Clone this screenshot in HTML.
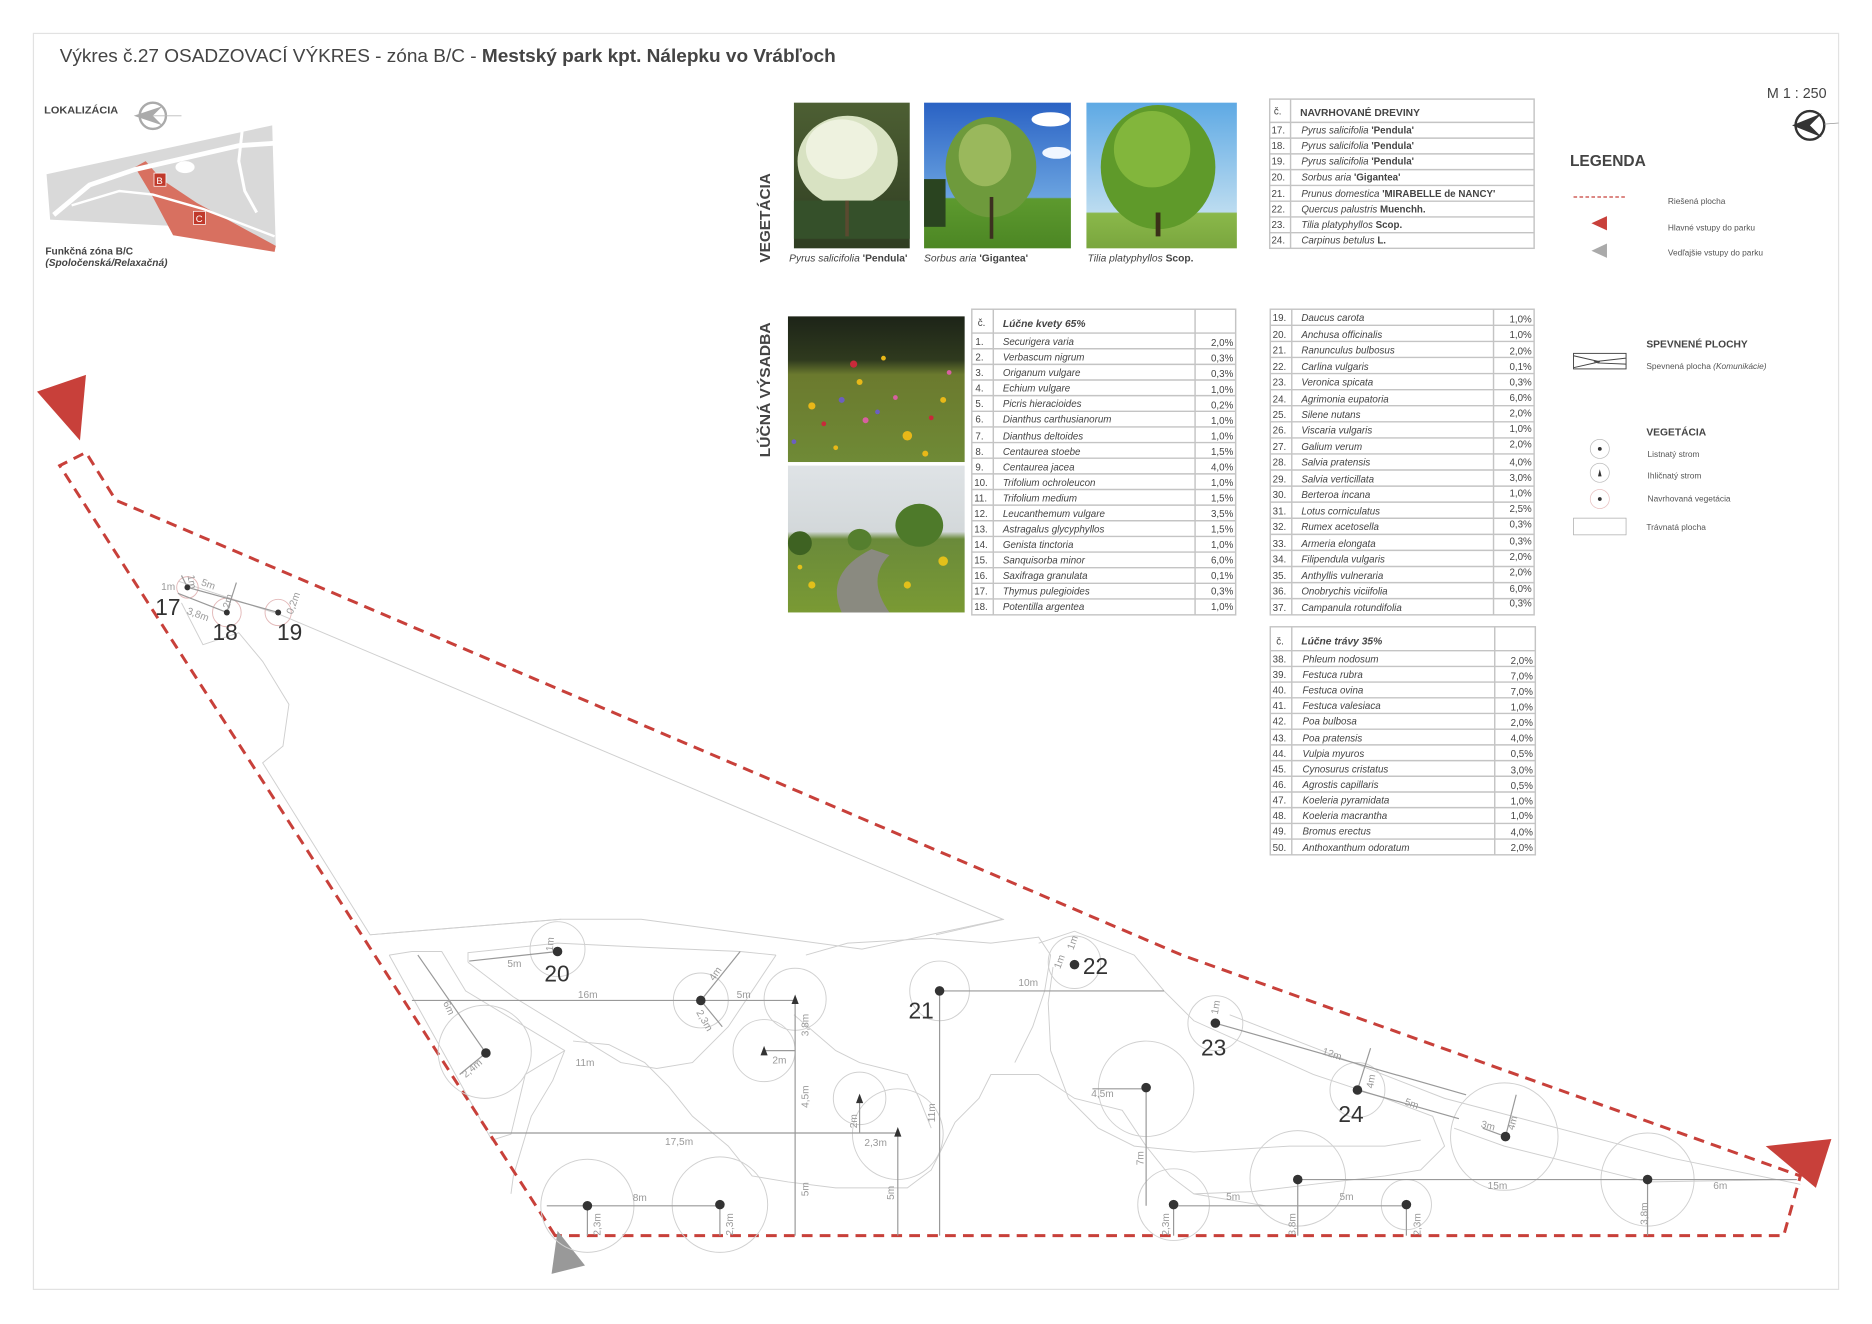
<!DOCTYPE html>
<html><head><meta charset="utf-8"><style>
html,body{margin:0;padding:0;background:#fff;}
svg{display:block;}
text{font-family:"Liberation Sans",sans-serif;}
.t{font-size:8.2px;font-style:italic;fill:#444;}
.n{font-size:8.2px;fill:#444;}
.p{font-size:8.2px;fill:#444;text-anchor:end;}
.d{font-size:8.5px;fill:#999;}
.big{font-size:19px;fill:#333;}
.lg{font-size:7px;fill:#555;}
</style></head><body>
<svg width="1872" height="1324" viewBox="0 0 1568 1109" preserveAspectRatio="none" xmlns="http://www.w3.org/2000/svg">
<defs>
<linearGradient id="g1" x1="0" y1="0" x2="0" y2="1"><stop offset="0" stop-color="#4d5f33"/><stop offset="1" stop-color="#2f3d22"/></linearGradient>
<linearGradient id="g2" x1="0" y1="0" x2="0" y2="1"><stop offset="0" stop-color="#2a62c4"/><stop offset="0.65" stop-color="#6aa3e0"/><stop offset="0.66" stop-color="#5d9a2e"/><stop offset="1" stop-color="#4c8624"/></linearGradient>
<linearGradient id="g3" x1="0" y1="0" x2="0" y2="1"><stop offset="0" stop-color="#5ea9e4"/><stop offset="0.75" stop-color="#bcdcf0"/><stop offset="0.76" stop-color="#8ab84a"/><stop offset="1" stop-color="#7aa63e"/></linearGradient>
<linearGradient id="g4" x1="0" y1="0" x2="0" y2="1"><stop offset="0" stop-color="#1d2418"/><stop offset="0.3" stop-color="#2f3a1e"/><stop offset="0.4" stop-color="#6b7a2e"/><stop offset="1" stop-color="#6f8a36"/></linearGradient>
<linearGradient id="g5" x1="0" y1="0" x2="0" y2="1"><stop offset="0" stop-color="#dfe3e6"/><stop offset="0.45" stop-color="#d3d8da"/><stop offset="0.5" stop-color="#6a8a3a"/><stop offset="1" stop-color="#7a9a34"/></linearGradient>
</defs>

<!-- frame -->
<rect x="28" y="28" width="1512" height="1052" fill="none" stroke="#e2e2e2" stroke-width="1"/>

<!-- title -->
<text x="50" y="52" font-size="15.5" fill="#444" textLength="650" lengthAdjust="spacingAndGlyphs">Výkres č.27 OSADZOVACÍ VÝKRES - zóna B/C  - <tspan font-weight="bold">Mestský park kpt. Nálepku vo Vrábľoch</tspan></text>

<!-- localization -->
<text x="37" y="95" font-size="8.5" font-weight="bold" fill="#444" textLength="62" lengthAdjust="spacingAndGlyphs">LOKALIZÁCIA</text>
<circle cx="128" cy="97" r="11" fill="none" stroke="#aaa" stroke-width="2"/>
<path d="M112 97 L136 89 L128 97 L136 105 Z" fill="#aaa"/>
<line x1="128" y1="97" x2="152" y2="97" stroke="#bbb" stroke-width="0.8"/>
<polygon points="39,146 228,105 231,207 200,192 42,184" fill="#d9d9d9"/>
<polygon points="113,140 122,135 135,150 165,170 231,206 230,211 145,197 128,165" fill="#d87060"/>
<path d="M45 180 L75 155 L113 142 L200 122 L230 120" stroke="#fff" stroke-width="4" fill="none"/>
<path d="M60 172 L100 160 L128 163 L170 175 L230 198" stroke="#fff" stroke-width="2" fill="none"/>
<path d="M203 108 L200 135 L205 160 L215 178" stroke="#fff" stroke-width="2.5" fill="none"/>
<ellipse cx="155" cy="140" rx="8" ry="5" fill="#fff"/>
<rect x="129" y="145" width="10" height="11" fill="#c0392b" stroke="#fff" stroke-width="0.6"/>
<text x="131" y="154" font-size="8" fill="#fff">B</text>
<rect x="162" y="177" width="10" height="11" fill="#c0392b" stroke="#fff" stroke-width="0.6"/>
<text x="164" y="186" font-size="8" fill="#fff">C</text>
<text x="38" y="213" font-size="8.5" font-weight="bold" fill="#444">Funkčná zóna B/C</text>
<text x="38" y="223" font-size="8.5" font-weight="bold" font-style="italic" fill="#444">(Spoločenská/Relaxačná)</text>

<!-- section labels -->
<text transform="translate(645,220) rotate(-90)" font-size="12" font-weight="bold" fill="#444" textLength="75" lengthAdjust="spacingAndGlyphs">VEGETÁCIA</text>
<text transform="translate(645,383) rotate(-90)" font-size="12" font-weight="bold" fill="#444" textLength="113" lengthAdjust="spacingAndGlyphs">LÚČNÁ VÝSADBA</text>

<!-- photos -->
<rect x="665" y="86" width="97" height="122" fill="url(#g1)"/>
<ellipse cx="710" cy="135" rx="42" ry="38" fill="#d8e2c2"/>
<ellipse cx="705" cy="125" rx="30" ry="25" fill="#eef2df"/>
<rect x="665" y="168" width="97" height="32" fill="#35502a"/>
<rect x="708" y="168" width="3" height="30" fill="#5a4a30"/>
<rect x="774" y="86" width="123" height="122" fill="url(#g2)"/>
<ellipse cx="880" cy="100" rx="16" ry="6" fill="#fff"/>
<ellipse cx="885" cy="128" rx="12" ry="5" fill="#f0f6ff"/>
<rect x="774" y="150" width="18" height="40" fill="#2a4420"/>
<ellipse cx="830" cy="140" rx="38" ry="42" fill="#6e9a3c"/>
<ellipse cx="825" cy="130" rx="22" ry="26" fill="#9ab85c"/>
<rect x="829" y="165" width="3" height="35" fill="#3c3020"/>
<rect x="910" y="86" width="126" height="122" fill="url(#g3)"/>
<ellipse cx="970" cy="140" rx="48" ry="52" fill="#5f9a2a"/>
<ellipse cx="965" cy="125" rx="32" ry="32" fill="#82b63c"/>
<rect x="968" y="178" width="4" height="20" fill="#3a3018"/>
<text x="661" y="219" font-size="8.6" fill="#444"><tspan font-style="italic">Pyrus salicifolia</tspan> <tspan font-weight="bold">'Pendula'</tspan></text>
<text x="774" y="219" font-size="8.6" fill="#444"><tspan font-style="italic">Sorbus aria</tspan> <tspan font-weight="bold">'Gigantea'</tspan></text>
<text x="911" y="219" font-size="8.6" fill="#444"><tspan font-style="italic">Tilia platyphyllos</tspan> <tspan font-weight="bold">Scop.</tspan></text>

<rect x="660" y="265" width="148" height="122" fill="url(#g4)"/>
<g fill="#e8b818"><circle cx="680" cy="340" r="3"/><circle cx="760" cy="365" r="4"/><circle cx="720" cy="320" r="2.5"/><circle cx="790" cy="335" r="2.5"/><circle cx="700" cy="375" r="2"/><circle cx="740" cy="300" r="2"/><circle cx="775" cy="380" r="2.5"/></g>
<g fill="#c82a3a"><circle cx="715" cy="305" r="3"/><circle cx="690" cy="355" r="2"/><circle cx="780" cy="350" r="2"/></g>
<g fill="#6b5fc0"><circle cx="705" cy="335" r="2.5"/><circle cx="735" cy="345" r="2"/><circle cx="665" cy="370" r="2"/></g>
<g fill="#d860a0"><circle cx="725" cy="352" r="2.5"/><circle cx="750" cy="333" r="2"/><circle cx="795" cy="312" r="2"/></g>
<rect x="660" y="390" width="148" height="123" fill="url(#g5)"/>
<ellipse cx="770" cy="440" rx="20" ry="18" fill="#4e7a2a"/>
<ellipse cx="720" cy="452" rx="10" ry="9" fill="#557f2e"/>
<ellipse cx="670" cy="455" rx="10" ry="10" fill="#3e6222"/>
<path d="M730 460 Q690 480 705 513 L745 513 Q725 485 745 465 Z" fill="#8a8a80"/>
<g fill="#e2c01a"><circle cx="680" cy="490" r="3"/><circle cx="790" cy="470" r="4"/><circle cx="760" cy="490" r="3"/><circle cx="670" cy="475" r="2"/></g>

<!-- table styles -->
<g stroke="#c4c4c4" stroke-width="1.2" fill="none">
<!-- dreviny -->
<rect x="1063.5" y="83" width="221.5" height="125"/>
<line x1="1081" y1="83" x2="1081" y2="208"/>
<path d="M1063.5 102.5H1285M1063.5 115.7H1285M1063.5 128.9H1285M1063.5 142.1H1285M1063.5 155.3H1285M1063.5 168.5H1285M1063.5 181.7H1285M1063.5 194.9H1285"/>
<!-- T1 -->
<rect x="814" y="259" width="221" height="256"/>
<line x1="832" y1="259" x2="832" y2="515"/><line x1="1001" y1="259" x2="1001" y2="515"/>
<path d="M814 279H1035M814 292.1H1035M814 305.2H1035M814 318.3H1035M814 331.4H1035M814 344.5H1035M814 357.6H1035M814 370.7H1035M814 383.8H1035M814 396.9H1035M814 410H1035M814 423.1H1035M814 436.2H1035M814 449.3H1035M814 462.4H1035M814 475.5H1035M814 488.6H1035M814 501.7H1035"/>
<!-- T2 -->
<rect x="1064" y="259" width="221" height="256"/>
<line x1="1082" y1="259" x2="1082" y2="515"/><line x1="1251" y1="259" x2="1251" y2="515"/>
<path d="M1064 272.5H1285M1064 286H1285M1064 299.4H1285M1064 312.9H1285M1064 326.4H1285M1064 339.8H1285M1064 353.3H1285M1064 366.8H1285M1064 380.2H1285M1064 393.7H1285M1064 407.2H1285M1064 420.6H1285M1064 434.1H1285M1064 447.6H1285M1064 461H1285M1064 474.5H1285M1064 488H1285M1064 501.4H1285"/>
<!-- T3 -->
<rect x="1064" y="525" width="222" height="191"/>
<line x1="1082" y1="525" x2="1082" y2="716"/><line x1="1252" y1="525" x2="1252" y2="716"/>
<path d="M1064 545H1286M1064 558.2H1286M1064 571.3H1286M1064 584.5H1286M1064 597.6H1286M1064 610.8H1286M1064 623.9H1286M1064 637.1H1286M1064 650.2H1286M1064 663.4H1286M1064 676.5H1286M1064 689.7H1286M1064 702.8H1286"/>
</g>

<!-- dreviny text -->
<text x="1067" y="96" class="n">č.</text><text x="1089" y="97" font-size="8.6" font-weight="bold" fill="#444">NAVRHOVANÉ DREVINY</text>
<g class="n">
<text x="1065" y="112">17.</text><text x="1065" y="125">18.</text><text x="1065" y="138">19.</text><text x="1065" y="151">20.</text><text x="1065" y="165">21.</text><text x="1065" y="178">22.</text><text x="1065" y="191">23.</text><text x="1065" y="204">24.</text>
</g>
<g font-size="8.2" fill="#444">
<text x="1090" y="112"><tspan font-style="italic">Pyrus salicifolia</tspan> <tspan font-weight="bold">'Pendula'</tspan></text>
<text x="1090" y="125"><tspan font-style="italic">Pyrus salicifolia</tspan> <tspan font-weight="bold">'Pendula'</tspan></text>
<text x="1090" y="138"><tspan font-style="italic">Pyrus salicifolia</tspan> <tspan font-weight="bold">'Pendula'</tspan></text>
<text x="1090" y="151"><tspan font-style="italic">Sorbus aria</tspan> <tspan font-weight="bold">'Gigantea'</tspan></text>
<text x="1090" y="165"><tspan font-style="italic">Prunus domestica</tspan>  <tspan font-weight="bold">'MIRABELLE de NANCY'</tspan></text>
<text x="1090" y="178"><tspan font-style="italic">Quercus palustris</tspan> <tspan font-weight="bold">Muenchh.</tspan></text>
<text x="1090" y="191"><tspan font-style="italic">Tilia platyphyllos</tspan> <tspan font-weight="bold">Scop.</tspan></text>
<text x="1090" y="204"><tspan font-style="italic">Carpinus betulus</tspan> <tspan font-weight="bold">L.</tspan></text>
</g>

<!-- T1 text -->
<text x="819" y="273" class="n">č.</text><text x="840" y="274" font-size="8.6" font-weight="bold" font-style="italic" fill="#444">Lúčne kvety 65%</text>
<g class="n">
<text x="817" y="289">1.</text><text x="817" y="302">2.</text><text x="817" y="315">3.</text><text x="817" y="328">4.</text><text x="817" y="341">5.</text><text x="817" y="354">6.</text><text x="817" y="368">7.</text><text x="817" y="381">8.</text><text x="817" y="394">9.</text><text x="816" y="407">10.</text><text x="816" y="420">11.</text><text x="816" y="433">12.</text><text x="816" y="446">13.</text><text x="816" y="459">14.</text><text x="816" y="472">15.</text><text x="816" y="485">16.</text><text x="816" y="498">17.</text><text x="816" y="511">18.</text>
</g>
<g class="t">
<text x="840" y="289">Securigera varia</text><text x="840" y="302">Verbascum nigrum</text><text x="840" y="315">Origanum vulgare</text><text x="840" y="328">Echium vulgare</text><text x="840" y="341">Picris hieracioides</text><text x="840" y="354">Dianthus carthusianorum</text><text x="840" y="368">Dianthus deltoides</text><text x="840" y="381">Centaurea stoebe</text><text x="840" y="394">Centaurea jacea</text><text x="840" y="407">Trifolium ochroleucon</text><text x="840" y="420">Trifolium medium</text><text x="840" y="433">Leucanthemum vulgare</text><text x="840" y="446">Astragalus glycyphyllos</text><text x="840" y="459">Genista tinctoria</text><text x="840" y="472">Sanquisorba minor</text><text x="840" y="485">Saxifraga granulata</text><text x="840" y="498">Thymus pulegioides</text><text x="840" y="511">Potentilla argentea</text>
</g>
<g class="p">
<text x="1033" y="290">2,0%</text><text x="1033" y="303">0,3%</text><text x="1033" y="316">0,3%</text><text x="1033" y="329">1,0%</text><text x="1033" y="342">0,2%</text><text x="1033" y="355">1,0%</text><text x="1033" y="368">1,0%</text><text x="1033" y="381">1,5%</text><text x="1033" y="394">4,0%</text><text x="1033" y="407">1,0%</text><text x="1033" y="420">1,5%</text><text x="1033" y="433">3,5%</text><text x="1033" y="446">1,5%</text><text x="1033" y="459">1,0%</text><text x="1033" y="472">6,0%</text><text x="1033" y="485">0,1%</text><text x="1033" y="498">0,3%</text><text x="1033" y="511">1,0%</text>
</g>

<!-- T2 text -->
<g class="n">
<text x="1066" y="269">19.</text><text x="1066" y="283">20.</text><text x="1066" y="296">21.</text><text x="1066" y="310">22.</text><text x="1066" y="323">23.</text><text x="1066" y="337">24.</text><text x="1066" y="350">25.</text><text x="1066" y="363">26.</text><text x="1066" y="377">27.</text><text x="1066" y="390">28.</text><text x="1066" y="404">29.</text><text x="1066" y="417">30.</text><text x="1066" y="431">31.</text><text x="1066" y="444">32.</text><text x="1066" y="458">33.</text><text x="1066" y="471">34.</text><text x="1066" y="485">35.</text><text x="1066" y="498">36.</text><text x="1066" y="512">37.</text>
</g>
<g class="t">
<text x="1090" y="269">Daucus carota</text><text x="1090" y="283">Anchusa officinalis</text><text x="1090" y="296">Ranunculus bulbosus</text><text x="1090" y="310">Carlina vulgaris</text><text x="1090" y="323">Veronica spicata</text><text x="1090" y="337">Agrimonia eupatoria</text><text x="1090" y="350">Silene nutans</text><text x="1090" y="363">Viscaria vulgaris</text><text x="1090" y="377">Galium verum</text><text x="1090" y="390">Salvia pratensis</text><text x="1090" y="404">Salvia verticillata</text><text x="1090" y="417">Berteroa incana</text><text x="1090" y="431">Lotus corniculatus</text><text x="1090" y="444">Rumex acetosella</text><text x="1090" y="458">Armeria elongata</text><text x="1090" y="471">Filipendula vulgaris</text><text x="1090" y="485">Anthyllis vulneraria</text><text x="1090" y="498">Onobrychis viciifolia</text><text x="1090" y="512">Campanula rotundifolia</text>
</g>
<g class="p">
<text x="1283" y="270">1,0%</text><text x="1283" y="283">1,0%</text><text x="1283" y="297">2,0%</text><text x="1283" y="310">0,1%</text><text x="1283" y="323">0,3%</text><text x="1283" y="336">6,0%</text><text x="1283" y="349">2,0%</text><text x="1283" y="362">1,0%</text><text x="1283" y="375">2,0%</text><text x="1283" y="390">4,0%</text><text x="1283" y="403">3,0%</text><text x="1283" y="416">1,0%</text><text x="1283" y="429">2,5%</text><text x="1283" y="442">0,3%</text><text x="1283" y="456">0,3%</text><text x="1283" y="469">2,0%</text><text x="1283" y="482">2,0%</text><text x="1283" y="496">6,0%</text><text x="1283" y="508">0,3%</text>
</g>

<!-- T3 text -->
<text x="1069" y="540" class="n">č.</text><text x="1090" y="540" font-size="8.6" font-weight="bold" font-style="italic" fill="#444">Lúčne trávy 35%</text>
<g class="n">
<text x="1066" y="555">38.</text><text x="1066" y="568">39.</text><text x="1066" y="581">40.</text><text x="1066" y="594">41.</text><text x="1066" y="607">42.</text><text x="1066" y="621">43.</text><text x="1066" y="634">44.</text><text x="1066" y="647">45.</text><text x="1066" y="660">46.</text><text x="1066" y="673">47.</text><text x="1066" y="686">48.</text><text x="1066" y="699">49.</text><text x="1066" y="713">50.</text>
</g>
<g class="t">
<text x="1091" y="555">Phleum nodosum</text><text x="1091" y="568">Festuca rubra</text><text x="1091" y="581">Festuca ovina</text><text x="1091" y="594">Festuca valesiaca</text><text x="1091" y="607">Poa bulbosa</text><text x="1091" y="621">Poa pratensis</text><text x="1091" y="634">Vulpia myuros</text><text x="1091" y="647">Cynosurus cristatus</text><text x="1091" y="660">Agrostis capillaris</text><text x="1091" y="673">Koeleria pyramidata</text><text x="1091" y="686">Koeleria macrantha</text><text x="1091" y="699">Bromus erectus</text><text x="1091" y="713">Anthoxanthum odoratum</text>
</g>
<g class="p">
<text x="1284" y="556">2,0%</text><text x="1284" y="569">7,0%</text><text x="1284" y="582">7,0%</text><text x="1284" y="595">1,0%</text><text x="1284" y="608">2,0%</text><text x="1284" y="621">4,0%</text><text x="1284" y="634">0,5%</text><text x="1284" y="648">3,0%</text><text x="1284" y="661">0,5%</text><text x="1284" y="674">1,0%</text><text x="1284" y="686">1,0%</text><text x="1284" y="700">4,0%</text><text x="1284" y="713">2,0%</text>
</g>

<!-- scale + compass -->
<text x="1480" y="82" font-size="12" fill="#444">M 1 : 250</text>
<circle cx="1516" cy="105" r="12" fill="none" stroke="#333" stroke-width="2"/>
<path d="M1501 105 L1526 95 L1516 105 L1526 115 Z" fill="#333"/>
<line x1="1528" y1="104" x2="1540" y2="103" stroke="#999" stroke-width="0.6"/>

<!-- legend -->
<text x="1315" y="139" font-size="13" font-weight="bold" fill="#444">LEGENDA</text>
<line x1="1318" y1="165" x2="1362" y2="165" stroke="#c8403a" stroke-width="1" stroke-dasharray="3 2"/>
<text x="1397" y="171" class="lg">Riešená plocha</text>
<polygon points="1333,187 1346,181 1346,193" fill="#c8403a"/>
<text x="1397" y="193" class="lg">Hlavné vstupy do parku</text>
<polygon points="1333,210 1346,204 1346,216" fill="#aaa"/>
<text x="1397" y="214" class="lg">Vedľajšie vstupy do parku</text>
<text x="1379" y="291" font-size="8.6" font-weight="bold" fill="#444">SPEVNENÉ PLOCHY</text>
<rect x="1318" y="296" width="44" height="13" fill="none" stroke="#444" stroke-width="0.8"/>
<path d="M1318 298 L1340 303 L1318 308 M1335 303 L1362 300 M1338 304 L1362 305" stroke="#444" stroke-width="0.8" fill="none"/>
<text x="1379" y="309" class="lg">Spevnená plocha <tspan font-style="italic">(Komunikácie)</tspan></text>
<text x="1379" y="365" font-size="8.6" font-weight="bold" fill="#444">VEGETÁCIA</text>
<circle cx="1340" cy="376" r="8" fill="none" stroke="#bbb" stroke-width="0.6"/><circle cx="1340" cy="376" r="1.6" fill="#333"/>
<text x="1380" y="383" class="lg">Listnatý strom</text>
<circle cx="1340" cy="396" r="8" fill="none" stroke="#bbb" stroke-width="0.6"/><polygon points="1340,393 1341.5,399 1338.5,399" fill="#333"/>
<text x="1380" y="401" class="lg">Ihličnatý strom</text>
<circle cx="1340" cy="418" r="8" fill="none" stroke="#e8c0c0" stroke-width="0.6"/><circle cx="1340" cy="418" r="1.6" fill="#333"/>
<text x="1380" y="420" class="lg">Navrhovaná vegetácia</text>
<rect x="1318" y="434" width="44" height="14" fill="none" stroke="#aaa" stroke-width="0.6"/>
<text x="1379" y="444" class="lg">Trávnatá plocha</text>

<!-- plan gray outlines -->
<g stroke="#cfcfcf" stroke-width="0.8" fill="none">
<path d="M150 487 L235 515 L840 770 L722 795 L537 770 L470 770 L310 783 L220 639 L237 625 L242 590 L220 554 L200 530 L170 540 L152 505"/>
<path d="M310 783 L470 770"/>
<path d="M784 783 L841 770"/>
<path d="M326 800 L345 797 L370 797 L390 830 L473 880 L463 905 L445 935 L430 985 L428 1000"/>
<path d="M326 800 L412 955 L428 950 L440 900 L473 880"/>
<path d="M392 806 L392 798 L467 790 L530 793 L620 797 L650 800"/>
<path d="M392 806 L430 835 L520 890 L550 895 L580 890 L610 860 L650 800"/>
<path d="M480 872 L510 875 L540 890 L560 910 L580 935 L610 960 L630 985 L660 990 L700 995 L760 995 L780 980 L790 960 L800 940 L820 920 L830 900 L870 900 L900 920 L940 930 L960 960 L980 985 L1000 1000 L1060 1010"/>
<path d="M675 800 L710 790 L780 786 L830 790 L870 785 L880 800 L875 830 L865 860 L850 890"/>
<path d="M665 850 L700 880 L720 890 L760 900 L770 920 L780 945"/>
<path d="M870 790 L900 780 L950 800 L975 830 L1000 855 L1100 900 L1160 920 L1200 935 L1210 960 L1190 980 L1160 985 L1100 992 L1050 998 L1000 1000"/>
<path d="M882 810 L878 840 L880 880 L895 920 L920 945 L950 960 L1000 965 L1080 960 L1160 960 L1190 955"/>
<path d="M1218 945 L1260 960 L1380 990 L1505 988"/>
<path d="M1030 850 L1210 920 L1400 970 L1508 992"/>
</g>

<!-- red boundary -->
<polygon points="465,1035 50,390 72,379 97,419 990,800 1508,985 1494,1035" fill="none" stroke="#c8403a" stroke-width="2.5" stroke-dasharray="9 6"/>
<polygon points="31,328 72,314 67,369" fill="#c8403a"/>
<polygon points="1479,960 1534,954 1521,995" fill="#c8403a"/>
<polygon points="467,1031 490,1060 462,1067" fill="#999"/>

<!-- tree circles -->
<g fill="none" stroke="#d0d0d0" stroke-width="0.8">
<circle cx="157" cy="492" r="9" stroke="#e3b9b9"/><circle cx="190" cy="513" r="12" stroke="#e3b9b9"/><circle cx="233" cy="513" r="11" stroke="#e3b9b9"/>
<circle cx="467" cy="795" r="23"/><circle cx="587" cy="838" r="23"/><circle cx="406" cy="881" r="39"/>
<circle cx="666" cy="837" r="26"/><circle cx="640" cy="880" r="26"/><circle cx="720" cy="920" r="22"/><circle cx="752" cy="950" r="38"/>
<circle cx="492" cy="1010" r="39"/><circle cx="603" cy="1009" r="40"/>
<circle cx="787" cy="830" r="25"/><circle cx="900" cy="806" r="22"/><circle cx="960" cy="912" r="40"/>
<circle cx="1018" cy="857" r="23"/><circle cx="1137" cy="913" r="23"/><circle cx="1260" cy="952" r="45"/>
<circle cx="983" cy="1009" r="30"/><circle cx="1087" cy="987" r="40"/><circle cx="1178" cy="1009" r="21"/><circle cx="1380" cy="988" r="39"/>
</g>

<!-- dimension lines -->
<g stroke="#999" stroke-width="1" fill="none">
<path d="M152 482 L157 492 L233 513"/><path d="M149 497 L190 513"/><path d="M190 513 L198 488"/>
<path d="M393 805 L467 797"/>
<path d="M345 838 L666 838"/><path d="M587 838 L620 797"/><path d="M587 838 L605 860"/>
<path d="M666 838 L666 1035"/><path d="M640 880 L666 880"/>
<path d="M350 800 L407 882 L385 900"/>
<path d="M410 949 L752 949"/><path d="M720 920 L720 949"/><path d="M752 949 L752 1035"/>
<path d="M458 1010 L603 1010"/><path d="M492 1010 L492 1035"/><path d="M603 1010 L603 1035"/>
<path d="M787 830 L787 1035"/><path d="M787 830 L975 830"/>
<path d="M915 912 L960 912 L960 1010"/>
<path d="M1018 857 L1228 917"/><path d="M1137 913 L1222 937"/><path d="M1137 913 L1148 878"/>
<path d="M1261 952 L1270 917"/><path d="M1242 945 L1261 952"/>
<path d="M983 1010 L1178 1010"/><path d="M983 1010 L983 1035"/><path d="M1087 988 L1087 1035"/><path d="M1178 1010 L1178 1035"/>
<path d="M1087 988 L1505 988"/><path d="M1380 988 L1380 1035"/>
</g>

<!-- dots -->
<g fill="#333">
<circle cx="157" cy="492" r="2.5"/><circle cx="190" cy="513" r="2.5"/><circle cx="233" cy="513" r="2.5"/>
<circle cx="467" cy="797" r="4"/><circle cx="587" cy="838" r="4"/><circle cx="407" cy="882" r="4"/>
<circle cx="492" cy="1010" r="4"/><circle cx="603" cy="1009" r="4"/>
<circle cx="787" cy="830" r="4"/><circle cx="900" cy="808" r="4"/><circle cx="960" cy="911" r="4"/>
<circle cx="1018" cy="857" r="4"/><circle cx="1137" cy="913" r="4"/><circle cx="1261" cy="952" r="4"/>
<circle cx="983" cy="1009" r="4"/><circle cx="1087" cy="988" r="4"/><circle cx="1178" cy="1009" r="4"/><circle cx="1380" cy="988" r="4"/>
<polygon points="666,833 669,841 663,841"/><polygon points="640,876 643,884 637,884"/><polygon points="720,916 723,924 717,924"/><polygon points="752,944 755,952 749,952"/>
</g>

<!-- tree numbers -->
<g class="big">
<text x="130" y="515">17</text><text x="178" y="536">18</text><text x="232" y="536">19</text>
<text x="456" y="822">20</text><text x="761" y="853">21</text><text x="907" y="816">22</text>
<text x="1006" y="884">23</text><text x="1121" y="940">24</text>
</g>

<!-- dimension labels -->
<g class="d">
<text x="168" y="490" transform="rotate(20 168 490)">5m</text>
<text x="135" y="494">1m</text>
<text x="156" y="514" transform="rotate(20 156 514)">3,8m</text>
<text transform="translate(157,482) rotate(80)">1m</text>
<text transform="translate(192,510) rotate(-75)">2m</text>
<text transform="translate(245,515) rotate(-70)">0,2m</text>
<text x="425" y="810">5m</text>
<text transform="translate(463,797) rotate(-85)">1m</text>
<text x="484" y="836">16m</text><text x="617" y="836">5m</text>
<text transform="translate(598,822) rotate(-55)">4m</text>
<text transform="translate(583,848) rotate(60)">2,3m</text>
<text transform="translate(677,868) rotate(-90)">3,8m</text>
<text transform="translate(677,928) rotate(-90)">4,5m</text>
<text transform="translate(677,1002) rotate(-90)">5m</text>
<text x="647" y="891">2m</text>
<text transform="translate(371,840) rotate(65)">6m</text>
<text transform="translate(390,903) rotate(-40)">2,4m</text>
<text x="482" y="893">11m</text>
<text x="557" y="959">17,5m</text><text x="724" y="960">2,3m</text>
<text transform="translate(718,945) rotate(-90)">2m</text>
<text transform="translate(749,1005) rotate(-90)">5m</text>
<text x="530" y="1006">8m</text>
<text transform="translate(503,1035) rotate(-90)">2,3m</text>
<text transform="translate(614,1035) rotate(-90)">2,3m</text>
<text transform="translate(783,940) rotate(-90)">11m</text>
<text x="853" y="826">10m</text>
<text transform="translate(888,812) rotate(-70)">1m</text>
<text transform="translate(899,796) rotate(-70)">1m</text>
<text x="914" y="919">4,5m</text>
<text transform="translate(958,976) rotate(-90)">7m</text>
<text transform="translate(1020,850) rotate(-80)">1m</text>
<text transform="translate(1107,883) rotate(18)">12m</text>
<text transform="translate(1176,925) rotate(20)">5m</text>
<text transform="translate(1150,912) rotate(-80)">4m</text>
<text transform="translate(1268,947) rotate(-75)">4m</text>
<text transform="translate(1240,944) rotate(15)">3m</text>
<text x="1027" y="1005">5m</text><text x="1122" y="1005">5m</text>
<text transform="translate(979,1035) rotate(-90)">2,3m</text>
<text transform="translate(1085,1035) rotate(-90)">3,8m</text>
<text transform="translate(1190,1035) rotate(-90)">2,3m</text>
<text x="1246" y="996">15m</text><text x="1435" y="996">6m</text>
<text transform="translate(1380,1026) rotate(-90)">3,8m</text>
</g>
</svg>
</body></html>
